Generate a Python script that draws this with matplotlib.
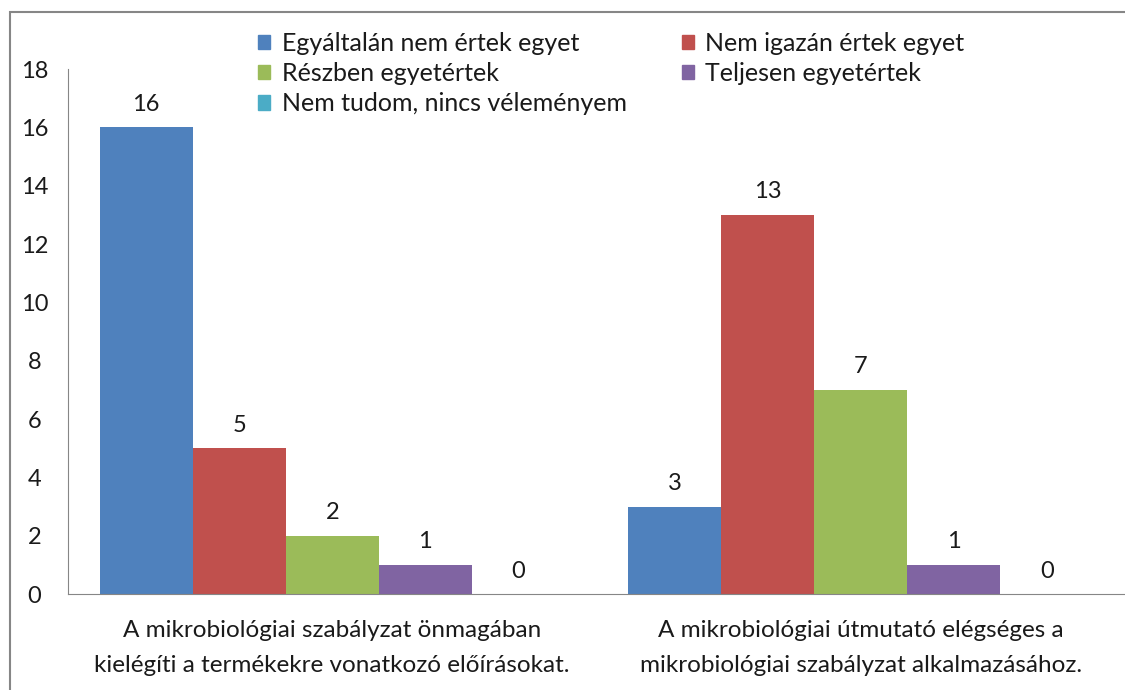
import numpy as np
import matplotlib.pyplot as plt
from matplotlib.patches import Rectangle, Patch

plt.rcParams['font.family'] = ['Lato', 'DejaVu Sans']

categories = ["A mikrobiológiai szabályzat önmagában\nkielégíti a termékekre vonatkozó előírásokat.",
              "A mikrobiológiai útmutató elégséges a\nmikrobiológiai szabályzat alkalmazásához."]
series = ["Egyáltalán nem értek egyet", "Nem igazán értek egyet", "Részben egyetértek",
          "Teljesen egyetértek", "Nem tudom, nincs véleményem"]
values = [[16, 3], [5, 13], [2, 7], [1, 1], [0, 0]]
colors = ["#4F81BD", "#C0504D", "#9BBB59", "#8064A2", "#4BACC6"]

fig = plt.figure(figsize=(11.25, 6.9), dpi=100)
ax = fig.add_axes([0.0604, 0.139, 0.9396, 0.761])

# outer chart border (right and bottom edges fall outside the picture)
fig.patches.append(Rectangle((0.009, -0.01), 1.0, 0.993, transform=fig.transFigure,
                             fill=False, edgecolor="#868686", linewidth=1.5))

x = np.arange(len(categories))
w = 0.176
for i, (name, vals) in enumerate(zip(series, values)):
    pos = x + (i - 2) * w
    ax.bar(pos, vals, w, color=colors[i], label=name)
    for p, v in zip(pos, vals):
        ax.annotate(str(v), (p, v), xytext=(0, 9), textcoords="offset points",
                    ha="center", va="bottom", fontsize=17, color="#1a1a1a")

ax.set_xlim(-0.5, 1.5)
ax.set_ylim(0, 18)
ax.set_yticks(range(0, 19, 2))
ax.set_xticks(x)
ax.set_xticklabels(categories, fontsize=17.5, linespacing=1.8, color="#1a1a1a")
ax.tick_params(axis="x", length=0, pad=19)
ax.tick_params(axis="y", length=0, pad=24, labelsize=17, labelcolor="#1a1a1a")
for lbl in ax.get_yticklabels():
    lbl.set_horizontalalignment("center")
for s in ["top", "right"]:
    ax.spines[s].set_visible(False)
for s in ["left", "bottom"]:
    ax.spines[s].set_color("#868686")

# legend fills row by row in the original
order = [0, 2, 4, 1, 3]
handles = [Patch(color=colors[i]) for i in order]
labels = [series[i] for i in order]
fig.legend(handles, labels, ncol=2, loc="upper left", bbox_to_anchor=(0.218, 0.972),
           frameon=False, fontsize=18, handlelength=0.5, handleheight=0.5,
           handletextpad=0.45, columnspacing=2.2, labelspacing=0.29, borderpad=0,
           labelcolor="#1a1a1a")

fig.savefig("out.png", dpi=100)
